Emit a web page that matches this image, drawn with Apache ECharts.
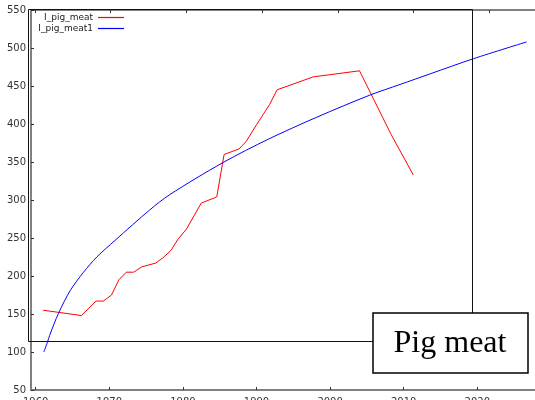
<!DOCTYPE html>
<html>
<head>
<meta charset="utf-8">
<script src="https://cdn.jsdelivr.net/npm/echarts@6/dist/echarts.min.js"></script>
<style>html,body{margin:0;padding:0;background:#fff;}#c{width:535px;height:400px;}</style>
</head>
<body>
<div id="c"></div>
<script>
// Data
var redYears = [1961, 1966.2, 1968.2, 1969.2, 1970.3, 1971.3, 1972.3, 1973.3, 1974.4, 1976.3, 1977.3, 1978.4, 1979.3, 1980.5, 1982.5, 1984.6, 1985.6, 1987.6, 1988.6, 1990.0, 1991.8, 1992.8, 1997.7, 2004.0, 2008.3, 2011.3];
var redValues = [155, 148, 167, 167, 175, 195, 205, 205, 212, 217, 224, 234, 248, 262, 296, 304, 360, 367, 377, 399, 426, 445, 462, 470, 386, 333];
var blueYears = [1961.1, 1961.6, 1961.9, 1963.1, 1964.7, 1966.5, 1968.3, 1970.8, 1975.5, 1978.2, 1985.4, 1991.6, 1998.2, 2005.4, 2009.5, 2013.6, 2019.5, 2026.7];
var blueValues = [100, 113, 122, 151, 181, 205, 225, 247, 287, 307, 349, 380, 409, 438, 452, 466, 486, 508];
var xTicks = [1960, 1970, 1980, 1990, 2000, 2010, 2020];
var seriesNames = ['I_pig_meat', 'I_pig_meat1'];
var titleText = 'Pig meat';

function pairs(xs, ys) { return xs.map(function (x, i) { return [x, ys[i]]; }); }

var chart = echarts.init(document.getElementById('c'), null, {renderer: 'canvas'});
var axisGray = '#808080';
var font = 'DejaVu Sans';
chart.setOption({
  animation: false,
  grid: {left: 31, right: 0, top: 10, bottom: 10, containLabel: false, outerBoundsMode: 'none'},
  xAxis: [{
    type: 'value', min: 1959.36, max: 2027.84, position: 'bottom',
    axisLine: {show: true, lineStyle: {color: axisGray, width: 2}},
    axisTick: {show: true, inside: true, length: 3, lineStyle: {color: '#333', width: 1}, customValues: xTicks},
    axisLabel: {show: true, margin: 7, fontSize: 10, color: '#333', fontFamily: font, customValues: xTicks,
      formatter: function (v) { return String(v); }},
    splitLine: {show: false}
  }, {
    type: 'value', min: 1959.47, max: 2026.05, position: 'top',
    axisLine: {show: true, lineStyle: {color: axisGray, width: 2}},
    axisTick: {show: true, inside: true, length: 3, lineStyle: {color: '#333', width: 1}, customValues: xTicks},
    axisLabel: {show: false},
    splitLine: {show: false}
  }],
  yAxis: {
    type: 'value', min: 50, max: 550, interval: 50,
    axisLine: {show: true, lineStyle: {color: axisGray, width: 2}},
    axisTick: {show: true, inside: true, length: 3, lineStyle: {color: '#333', width: 1}},
    axisLabel: {margin: 5, fontSize: 10, color: '#333', fontFamily: font},
    splitLine: {show: false}
  },
  legend: [{
    data: [seriesNames[0]], orient: 'vertical', align: 'right', right: 411, top: 13,
    icon: 'rect', itemWidth: 26, itemHeight: 1.2, padding: 0,
    textStyle: {fontSize: 9, color: '#222', fontFamily: font}
  }, {
    data: [seriesNames[1]], orient: 'vertical', align: 'right', right: 411, top: 24,
    icon: 'rect', itemWidth: 26, itemHeight: 1.2, padding: 0,
    textStyle: {fontSize: 9, color: '#222', fontFamily: font}
  }],
  series: [{
    name: seriesNames[0], type: 'line', data: pairs(redYears, redValues),
    symbol: 'none', lineStyle: {color: '#ff0000', width: 1}, itemStyle: {color: '#ff0000'}
  }, {
    name: seriesNames[1], type: 'line', data: pairs(blueYears, blueValues),
    symbol: 'none', smooth: 0.3, lineStyle: {color: '#0000ff', width: 1}, itemStyle: {color: '#0000ff'}
  }],
  graphic: [{
    type: 'rect', z: 100, silent: true,
    shape: {x: 28.5, y: 9.5, width: 444, height: 332},
    style: {fill: 'none', stroke: '#111', lineWidth: 1}
  }, {
    type: 'rect', z: 110, silent: true,
    shape: {x: 373, y: 313, width: 155, height: 60},
    style: {fill: '#fff', stroke: '#000', lineWidth: 1.5}
  }, {
    type: 'text', z: 111, silent: true, x: 450, y: 344,
    style: {text: titleText, fill: '#000', font: '32px "Liberation Serif"', textAlign: 'center', textVerticalAlign: 'middle'}
  }]
});
</script>
</body>
</html>
